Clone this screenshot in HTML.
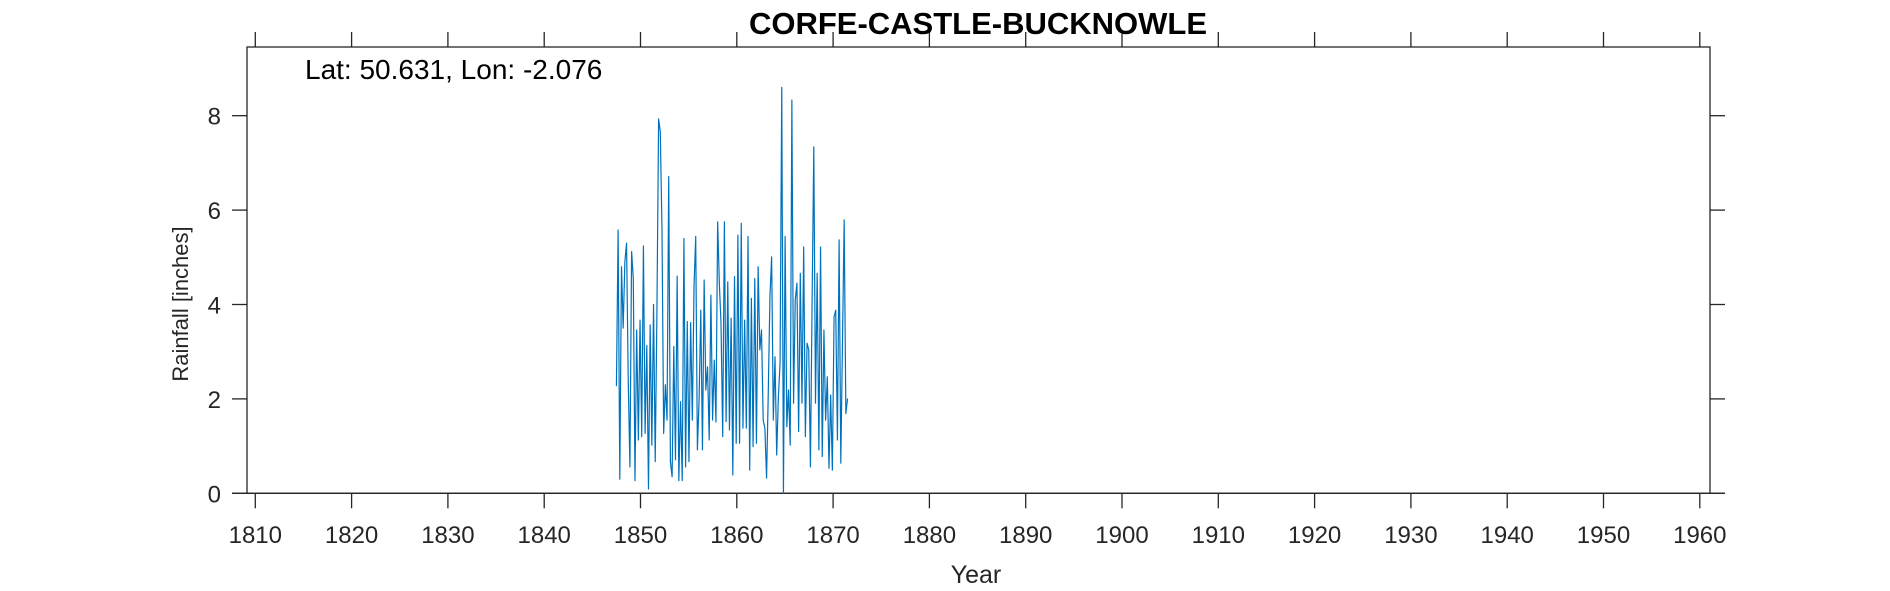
<!DOCTYPE html>
<html><head><meta charset="utf-8"><style>
html,body{margin:0;padding:0;background:#fff;}
svg{display:block;font-family:"Liberation Sans",Arial,sans-serif;}
</style></head><body>
<svg id="chart" width="1890" height="591" viewBox="0 0 1890 591">
<rect x="0" y="0" width="1890" height="591" fill="#fff"/>
<g id="axes"></g>
<polyline id="series" fill="none" stroke="#0072BD" stroke-width="1.2" stroke-linejoin="round"/>
<text x="978" y="34" text-anchor="middle" font-size="31" font-weight="bold" fill="#000">CORFE-CASTLE-BUCKNOWLE</text>
<text x="305" y="79" font-size="28" fill="#000">Lat: 50.631, Lon: -2.076</text>
<text x="976" y="583" text-anchor="middle" font-size="25" fill="#262626">Year</text>
<text transform="translate(188,304) rotate(-90)" text-anchor="middle" font-size="22" fill="#262626">Rainfall [inches]</text>
</svg>
<script>
const xTicks=[1810,1820,1830,1840,1850,1860,1870,1880,1890,1900,1910,1920,1930,1940,1950,1960];
const yTicks=[0,2,4,6,8];
const startYear=1847.5, endYear=1871.5;
const rainfall=[2.27,5.58,0.30,4.8,3.5,4.9,5.3,2.4,0.56,5.12,4.55,0.27,3.46,1.13,3.67,1.20,5.24,1.27,3.13,0.09,3.57,1.02,4.0,0.67,3.82,7.93,7.66,5.61,1.27,2.3,1.55,6.71,0.67,0.35,3.11,0.71,4.6,0.27,1.94,0.27,5.40,0.56,3.64,0.67,3.62,1.55,4.38,5.44,0.92,1.98,3.88,0.92,4.52,2.19,2.68,1.13,4.2,1.55,2.82,1.51,5.75,4.45,
3.60,1.20,5.75,1.52,4.48,1.34,3.71,0.39,4.59,1.06,5.47,1.06,5.72,1.38,3.67,1.38,5.44,0.49,4.13,0.99,4.55,1.06,4.80,3.04,3.46,1.55,1.38,0.32,2.12,4.17,5.01,1.55,2.89,0.81,2.05,2.75,8.6,0.0,5.44,1.41,2.19,1.02,8.33,1.91,4.10,4.45,1.31,4.66,1.91,5.22,1.20,3.18,3.04,0.56,4.10,7.34,1.91,4.66,0.92,5.22,0.78,3.46,1.55,2.47,0.53,2.08,0.49,3.74,3.88,1.13,5.37,0.64,3.21,5.79,1.69,2.01];
const X0=1810,XPX0=255.3,XPPY=9.63;
const Y0PX=493.3,YPPU=47.2;
function sx(v){return XPX0+(v-X0)*XPPY;}
function sy(v){return Y0PX-v*YPPU;}
const NS='http://www.w3.org/2000/svg';
const axes=document.getElementById('axes');
function mk(tag,attrs){const e=document.createElementNS(NS,tag);for(const k in attrs)e.setAttribute(k,attrs[k]);axes.appendChild(e);return e;}
const L=247,R=1710,T=47,B=493.3;
const box=mk('rect',{x:L,y:T,width:R-L,height:B-T,fill:'none',stroke:'#262626','stroke-width':1.3});


const xl=mk('line',{x1:232,y1:B,x2:1725,y2:B,stroke:'#262626','stroke-width':1.3});


xTicks.forEach(t=>{
  const x=sx(t);
  const a=mk('line',{x1:x,y1:B,x2:x,y2:B+15,stroke:'#262626','stroke-width':1.3});
  
  
  const b=mk('line',{x1:x,y1:T,x2:x,y2:T-15,stroke:'#262626','stroke-width':1.3});
  
  
  const tx=mk('text',{x:x,y:543,'text-anchor':'middle','font-size':24,fill:'#262626'});
  tx.textContent=t;
  
  
});
yTicks.forEach(t=>{
  const y=sy(t);
  const a=mk('line',{x1:L,y1:y,x2:L-15,y2:y,stroke:'#262626','stroke-width':1.3});
  
  
  const b=mk('line',{x1:R,y1:y,x2:R+15,y2:y,stroke:'#262626','stroke-width':1.3});
  
  
  const tx=mk('text',{x:221,y:y+9,'text-anchor':'end','font-size':24,fill:'#262626'});
  tx.textContent=t;
  
  
});
const n=rainfall.length;
const pts=rainfall.map((v,i)=>{const yr=startYear+i*(endYear-startYear)/(n-1);return sx(yr).toFixed(2)+','+sy(v).toFixed(2);});
document.getElementById('series').setAttribute('points',pts.join(' '));
</script>
</body></html>
